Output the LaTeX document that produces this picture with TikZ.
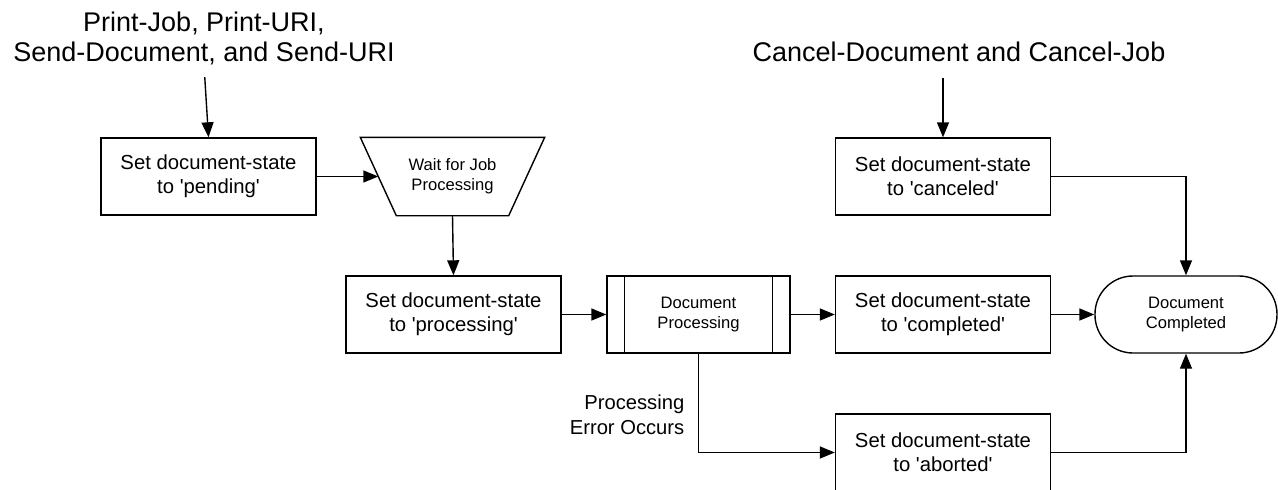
\documentclass[tikz,border=0pt]{standalone}
\usepackage{fontspec}
\setmainfont{Liberation Sans}
\usetikzlibrary{arrows.meta}
\newcommand\sq{\textquotesingle}
\begin{document}
\begin{tikzpicture}[x=1pt,y=-1pt,
  line width=1.4pt,
  arr/.style={-{Triangle[length=15pt,width=12pt]}},
  box/.style={draw,rectangle,minimum width=215pt,minimum height=77pt,inner sep=0pt,align=center,font=\fontsize{20.3}{24}\selectfont},
  smallbox/.style={draw,rectangle,minimum width=183pt,minimum height=77pt,inner sep=0pt,align=center,font=\fontsize{16.6}{20}\selectfont},
  title/.style={align=center,inner sep=0pt,font=\fontsize{27}{30}\selectfont},
  lbl/.style={align=right,inner sep=0pt,font=\fontsize{20.2}{25}\selectfont}
]
\useasboundingbox (0,0) rectangle (1278,490);
\node[title] (t1) at (204,38) {Print-Job, Print-URI,\\Send-Document, and Send-URI};
\node[title] (t2) at (959,52) {Cancel-Document and Cancel-Job};
\node[box] (pend) at (208.5,176.5) {Set document-state\\to \sq pending\sq};
\node[rectangle,minimum width=183pt,minimum height=77pt,inner sep=0pt,align=center,
  font=\fontsize{16.6}{20}\selectfont] (trap) at (452.5,176.5) {Wait for Job\\Processing};
\draw (trap.north west) -- (trap.north east) -- ([xshift=-36pt]trap.south east)
  -- ([xshift=36pt]trap.south west) -- cycle;
\coordinate (trapin) at ([xshift=18pt]trap.west);
\node[box] (proc) at (453.5,314.5) {Set document-state\\to \sq processing\sq};
\node[smallbox] (dproc) at (698.5,314.5) {Document\\Processing};
\draw ([xshift=18pt]dproc.north west) -- ([xshift=18pt]dproc.south west);
\draw ([xshift=-18pt]dproc.north east) -- ([xshift=-18pt]dproc.south east);
\node[box] (canc) at (943,176.5) {Set document-state\\to \sq canceled\sq};
\node[box] (comp) at (943,314.5) {Set document-state\\to \sq completed\sq};
\node[box] (abort) at (943,452.5) {Set document-state\\to \sq aborted\sq};
\node[draw,rectangle,rounded corners=38pt,minimum width=182pt,minimum height=77pt,inner sep=0pt,align=center,
  font=\fontsize{16.6}{20}\selectfont] (term) at (1186,314.5) {Document\\Completed};
\node[lbl,anchor=east] (err) at (685,415) {Processing\\Error Occurs};

\draw[arr,shorten <=12pt] (t1.south) -- (pend.north);
\draw[arr,shorten <=15pt] (t2.south -| canc.north) -- (canc.north);
\draw[arr] (pend.east) -- (trapin);
\draw[arr] (trap.south) -- (proc.north);
\draw[arr] (proc.east) -- (dproc.west);
\draw[arr] (dproc.east) -- (comp.west);
\draw[arr] (dproc.south) |- (abort.west);
\draw[arr] (comp.east) -- (term.west);
\draw[arr] (canc.east) -| (term.north);
\draw[arr] (abort.east) -| (term.south);
\end{tikzpicture}
\end{document}
